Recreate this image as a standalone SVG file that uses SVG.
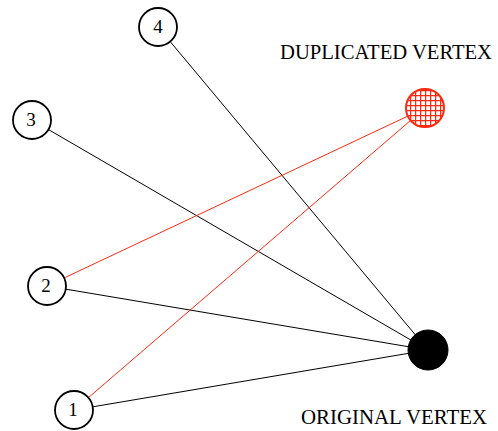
<svg xmlns="http://www.w3.org/2000/svg" width="498" height="431" viewBox="0 0 498 431">
<style>
.n{fill:#fff;stroke:#000;stroke-width:1.8}
.t{font-family:"Liberation Serif",serif;font-size:19px;text-anchor:middle}
.lbl{font-family:"Liberation Serif",serif;font-size:20.5px}
.k{stroke:#000;stroke-width:1}
.r{stroke:#ff2a10;stroke-width:1}
</style>
<defs>
<pattern id="grid" patternUnits="userSpaceOnUse" width="5" height="5" x="0" y="0">
<rect width="5" height="5" fill="#fff"/>
<path d="M0 0.6H5M0.6 0V5" stroke="#ff2a10" stroke-width="1.3"/>
</pattern>
</defs>
<g id="connectors">
<line class="k" x1="158" y1="27" x2="428" y2="350"/>
<line class="k" x1="32" y1="120" x2="428" y2="350"/>
<line class="k" x1="47" y1="286" x2="428" y2="350"/>
<line class="k" x1="74" y1="410" x2="428" y2="350"/>
<line class="r" x1="47" y1="286" x2="425" y2="108"/>
<line class="r" x1="74" y1="410" x2="425" y2="108"/>
</g>
<g id="node4"><circle class="n" cx="158" cy="27" r="19"/><text class="t" x="158" y="33">4</text></g>
<g id="node3"><circle class="n" cx="32" cy="120" r="19"/><text class="t" x="31" y="126">3</text></g>
<g id="node2"><circle class="n" cx="47" cy="286" r="19"/><text class="t" x="46" y="292">2</text></g>
<g id="node1"><circle class="n" cx="74" cy="410" r="19"/><text class="t" x="73" y="416">1</text></g>
<g id="duplicated"><circle cx="425" cy="108" r="19" fill="url(#grid)" stroke="#ff2a10" stroke-width="2"/><text class="lbl" x="280" y="59" textLength="212" lengthAdjust="spacingAndGlyphs">DUPLICATED VERTEX</text></g>
<g id="original"><circle cx="428" cy="350" r="20" fill="#000" stroke="#000" stroke-width="1"/><text class="lbl" x="301" y="424" textLength="186" lengthAdjust="spacingAndGlyphs">ORIGINAL VERTEX</text></g>
</svg>
